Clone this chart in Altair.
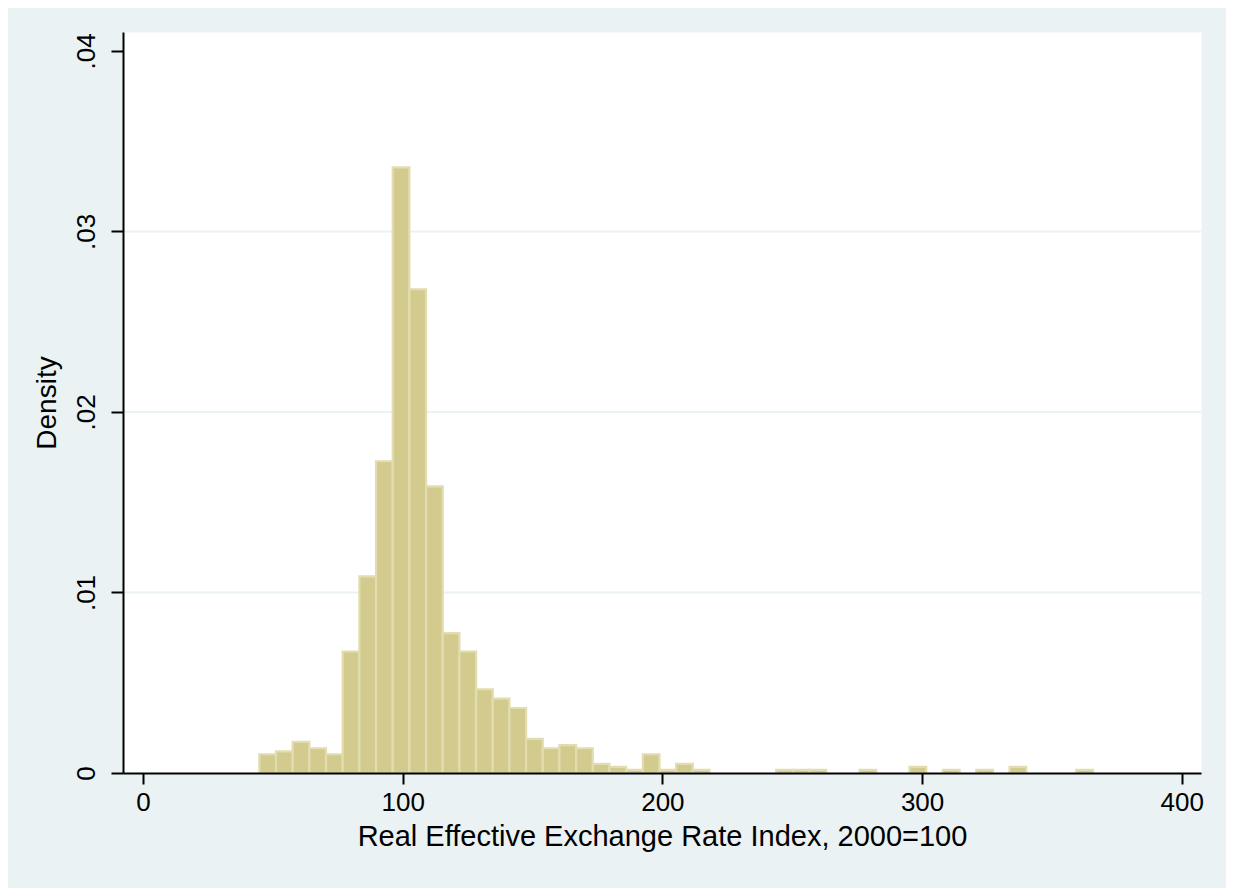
import altair as alt
import pandas as pd

# Histogram: 50 bins of equal width
bin_start = 44.8
bin_width = 6.42
density = [
    0.00104, 0.00120, 0.00172, 0.00137, 0.00104,
    0.00673, 0.01089, 0.01727, 0.03355, 0.02680,
    0.01588, 0.00775, 0.00673, 0.00464, 0.00412,
    0.00360, 0.00189, 0.00137, 0.00154, 0.00137,
    0.00050, 0.00034, 0.00017, 0.00104, 0.00017,
    0.00050, 0.00017, 0.0, 0.0, 0.0,
    0.0, 0.00017, 0.00017, 0.00017, 0.0,
    0.0, 0.00017, 0.0, 0.0, 0.00034,
    0.0, 0.00017, 0.0, 0.00017, 0.0,
    0.00034, 0.0, 0.0, 0.0, 0.00017,
]

x_ticks = [0, 100, 200, 300, 400]
y_ticks = [0, 0.01, 0.02, 0.03, 0.04]
y_tick_labels = ["0", ".01", ".02", ".03", ".04"]
grid_values = [0.01, 0.02, 0.03]

x_title = "Real Effective Exchange Rate Index, 2000=100"
y_title = "Density"

rows = []
for i, d in enumerate(density):
    if d > 0:
        rows.append({"x0": bin_start + i * bin_width,
                     "x1": bin_start + (i + 1) * bin_width,
                     "density": d,
                     "base": 0.0})
bars_df = pd.DataFrame(rows)
grid_df = pd.DataFrame({"density": grid_values})

FONT = "Liberation Sans"
BG = "#EAF2F3"

x_scale = alt.Scale(domain=[-7.7, 407.4], nice=False, zero=False)
y_scale = alt.Scale(domain=[0, 0.04105], nice=False, zero=False)

label_list = "[" + ",".join("'" + s + "'" for s in y_tick_labels) + "]"

y_axis = alt.Axis(
    values=y_ticks,
    labelExpr=label_list + "[round(datum.value*100)]",
    title=y_title,
    grid=False,
    domainColor="black", domainWidth=2,
    tickColor="black", tickWidth=2, tickSize=12,
    labelFont=FONT, labelFontSize=26, labelColor="black",
    labelAngle=270, labelAlign="center", labelBaseline="bottom",
    labelPadding=12, labelFlush=False, labelOverlap=False,
    titleFont=FONT, titleFontSize=28, titleFontWeight="normal",
    titleColor="black", titlePadding=12,
    zindex=1,
)

x_axis = alt.Axis(
    values=x_ticks,
    title=x_title,
    grid=False,
    domainColor="black", domainWidth=2,
    tickColor="black", tickWidth=2, tickSize=11,
    labelFont=FONT, labelFontSize=26, labelColor="black",
    labelPadding=5, labelFlush=False, labelOverlap=False,
    titleFont=FONT, titleFontSize=29, titleFontWeight="normal",
    titleColor="black", titlePadding=7,
    zindex=1,
)

grid = alt.Chart(grid_df).mark_rule(color=BG, strokeWidth=2).encode(
    y=alt.Y("density:Q", scale=y_scale, axis=y_axis),
)

bars = alt.Chart(bars_df).mark_rect(
    fill="#D3CB8E", stroke="#E2DDB0", strokeWidth=2.2
).encode(
    x=alt.X("x0:Q", scale=x_scale, axis=x_axis),
    x2="x1:Q",
    y=alt.Y("density:Q", scale=y_scale, axis=y_axis),
    y2="base:Q",
)

chart = alt.layer(grid, bars).properties(
    width=1078,
    height=741,
    autosize=alt.AutoSizeParams(type="none"),
    padding={"left": 115, "top": 24, "right": 25, "bottom": 115},
    background=BG,
).configure_view(fill="white", stroke="transparent")

chart.save("out.html", embed_options={"renderer": "svg", "actions": False})
